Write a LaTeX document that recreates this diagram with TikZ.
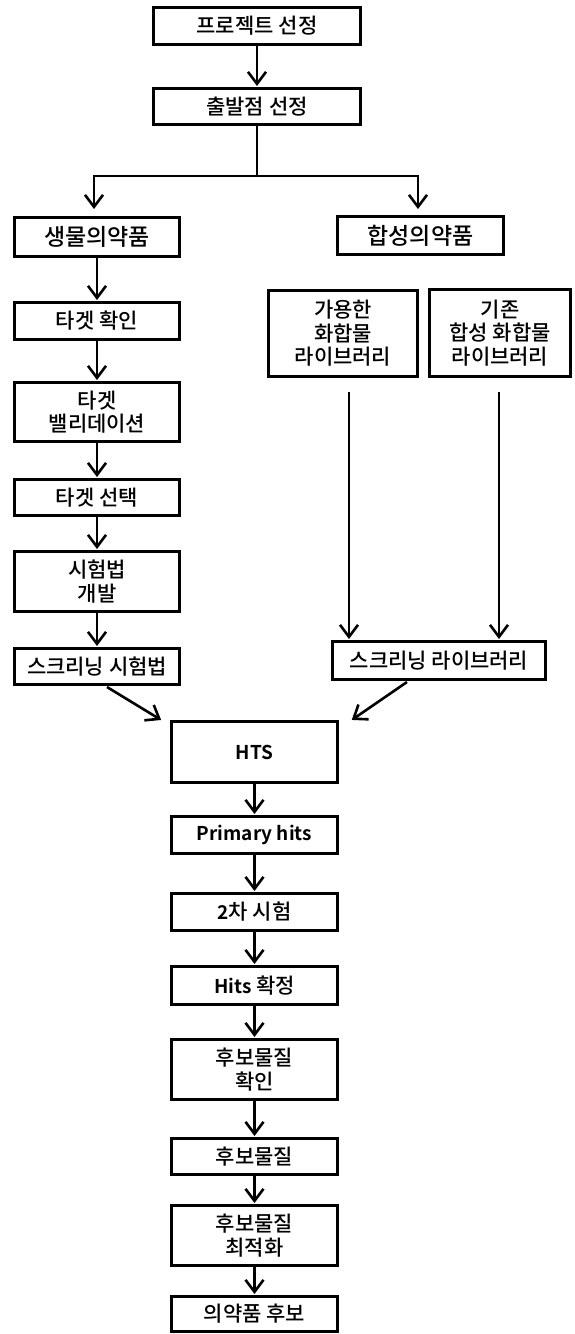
\documentclass[tikz,border=0pt]{standalone}
\usepackage{fontspec}
\newfontfamily\kr{Noto Sans CJK KR Medium}
\newfontfamily\krb{Noto Sans CJK KR Bold}
\usetikzlibrary{arrows.meta,calc}
\newcommand{\lat}[1]{{\krb\fontsize{19}{23.5}\selectfont #1}}
\begin{document}
\begin{tikzpicture}[x=1pt,y=-1pt,
  box/.style={draw, line width=3pt, inner sep=0pt, align=center,
    font=\kr\fontsize{21}{23.5}\selectfont},
  big/.style={font=\kr\fontsize{23}{26}\selectfont},
  arr/.style={line width=2.6pt, shorten >=1pt, -{Straight Barb[length=12pt,width=18pt]}},
  ln/.style={line width=2.6pt}]
\useasboundingbox (0,0) rectangle (574,1334);

% top of the flow
\node[box, minimum width=207pt, minimum height=37pt] (p1) at (257,26) {프로젝트 선정};
\node[box, minimum width=207pt, minimum height=36pt] (p2) at (257,106.5) {출발점 선정};

% two branches
\node[box, big, minimum width=165pt, minimum height=39pt] (bio) at (97,237) {생물의약품};
\node[box, big, minimum width=166pt, minimum height=38pt] (syn) at (420.5,235.5) {합성의약품};

% biological branch
\node[box, minimum width=165pt, minimum height=37pt] (b1) at (97,321) {타겟 확인};
\node[box, minimum width=165pt, minimum height=59pt] (b2) at (97,412) {타겟\\밸리데이션};
\node[box, minimum width=165pt, minimum height=36pt] (b3) at (97,497.5) {타겟 선택};
\node[box, minimum width=165pt, minimum height=60pt] (b4) at (97,581.5) {시험법\\개발};
\node[box, minimum width=165pt, minimum height=36pt] (b5) at (97,666.5) {스크리닝 시험법};

% synthetic branch
\node[box, minimum width=149pt, minimum height=86pt] (s1) at (343,333.5) {가용한\\화합물\\라이브러리};
\node[box, minimum width=141pt, minimum height=87pt] (s2) at (500,333) {기존\\합성 화합물\\라이브러리};
\node[box, minimum width=213pt, minimum height=38pt] (s3) at (439,660.5) {스크리닝 라이브러리};

% screening and follow-up
\node[box, minimum width=166pt, minimum height=61pt] (hts) at (254.5,752) {\lat{HTS}};
\node[box, minimum width=166pt, minimum height=37pt] (ph) at (254.5,835) {\lat{Primary hits}};
\node[box, minimum width=166pt, minimum height=37pt] (t2) at (254.5,912) {\lat{2}차 시험};
\node[box, minimum width=166pt, minimum height=38pt] (hc) at (254.5,985.5) {\lat{Hits} 확정};
\node[box, minimum width=166pt, minimum height=60pt] (c1) at (254.5,1069.5) {후보물질\\확인};
\node[box, minimum width=166pt, minimum height=36pt] (c2) at (254.5,1156.5) {후보물질};
\node[box, minimum width=166pt, minimum height=60pt] (c3) at (254.5,1235.5) {후보물질\\최적화};
\node[box, minimum width=166pt, minimum height=35pt] (fin) at (254.5,1314) {의약품 후보};

% connectors
\draw[arr] (p1) -- (p2);
\coordinate (fork) at ($(p2.south)+(0,50)$);
\draw[ln] (p2.south) -- (fork);
\draw[arr, shorten >=7pt] (fork) -| ($(bio.north)+(-3,0)$);
\draw[arr, shorten >=6pt] (fork) -| ($(syn.north)+(-2.5,0)$);

\draw[arr] (bio) -- (b1);
\draw[arr] (b1) -- (b2);
\draw[arr] (b2) -- (b3);
\draw[arr] (b3) -- (b4);
\draw[arr] (b4) -- (b5);

\coordinate (l1) at ($(s1.south)+(6,13.5)$);
\coordinate (l2) at ($(s2.south)+(-1,14)$);
\draw[arr] (l1) -- (l1 |- s3.north);
\draw[arr] (l2) -- (l2 |- s3.north);

\draw[arr] ($(b5.south)+(10,1)$) -- ($(hts.north west)+(-8,0.5)$);
\draw[arr] ($(s3.south)+(-32,1)$) -- ($(hts.north east)+(12,0.5)$);

\draw[arr] (hts) -- (ph);
\draw[arr] (ph) -- (t2);
\draw[arr] (t2) -- (hc);
\draw[arr] (hc) -- (c1);
\draw[arr] (c1) -- (c2);
\draw[arr] (c2) -- (c3);
\draw[arr] (c3) -- (fin);
\end{tikzpicture}
\end{document}
